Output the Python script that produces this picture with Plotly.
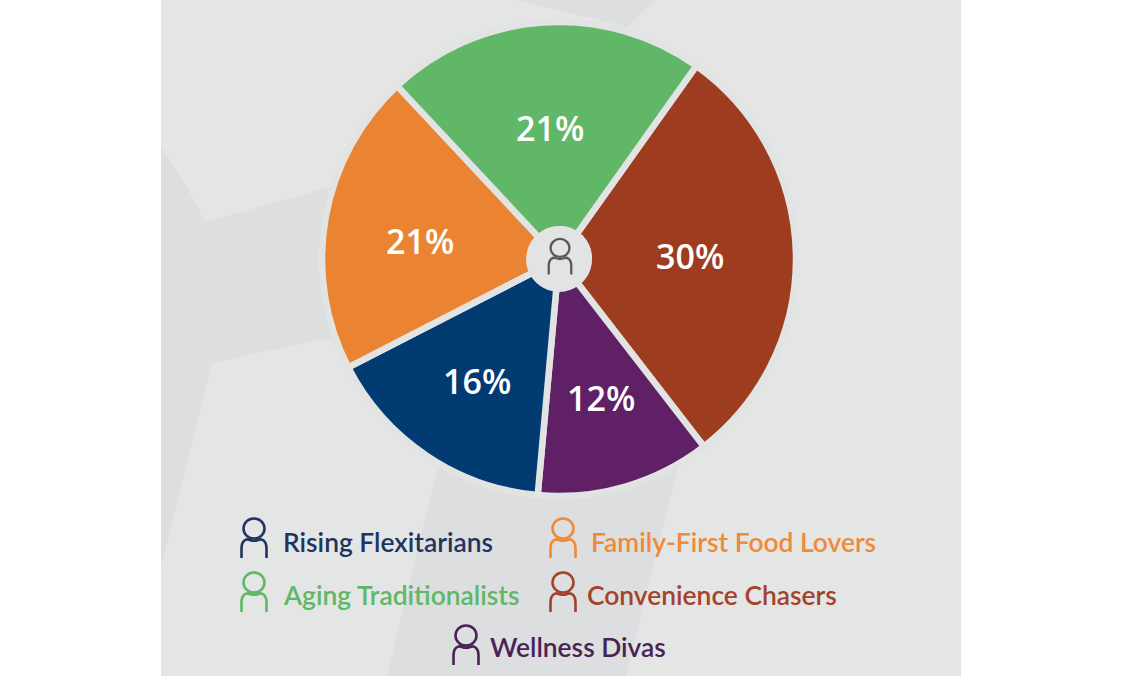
import math
import plotly.graph_objects as go

W, H = 1122, 676
segments = ["Convenience Chasers", "Wellness Divas", "Rising Flexitarians", "Family-First Food Lovers", "Aging Traditionalists"]
shares = [29.7, 11.9, 16.0, 20.6, 21.8]
share_labels = ["30%", "12%", "16%", "21%", "21%"]
colors = ["#9E3C20", "#5F2066", "#013B72", "#EA8433", "#60B767"]

PANEL = "#E4E5E5"
DARK = "#DDDEE0"
SEP = "#E2E3E3"
ROTATION = 35.4
CX, CY, R = 559, 259, 237
label_radius = [131, 145, 147, 140, 131]
label_nudge_deg = [0, -0.5, 0, -2.4, 0]

legend_items = [
    ("Rising Flexitarians", "#1F3560", 254, 538, 281, 542),
    ("Family-First Food Lovers", "#EE8A38", 563, 538, 589, 542),
    ("Aging Traditionalists", "#60B767", 254, 592, 281, 595),
    ("Convenience Chasers", "#A4432A", 563, 592, 585, 595),
    ("Wellness Divas", "#4A2255", 466, 645, 488, 647),
]

def person(cx, cy, color, s=1.0, width=2.6):
    """Outline person icon: head circle and open shoulders arch."""
    out = [dict(type="circle", xref="x", yref="y", x0=cx - 10.5 * s, x1=cx + 10.5 * s,
                y0=cy - 19.5 * s, y1=cy + 0.5 * s, line=dict(color=color, width=width), layer="above")]
    path = (f"M {cx-12.5*s} {cy+20*s} L {cx-12.5*s} {cy+10*s} C {cx-12.5*s} {cy+3*s} {cx-8*s} {cy+0*s} {cx-4*s} {cy+2*s} "
            f"C {cx-1.5*s} {cy+3*s} {cx+1.5*s} {cy+3*s} {cx+4*s} {cy+2*s} "
            f"C {cx+8*s} {cy+0*s} {cx+12.5*s} {cy+3*s} {cx+12.5*s} {cy+10*s} L {cx+12.5*s} {cy+20*s}")
    out.append(dict(type="path", xref="x", yref="y", path=path, line=dict(color=color, width=width), layer="above"))
    return out

shapes = [
    dict(type="rect", xref="x", yref="y", x0=161, x1=961, y0=0, y1=676, fillcolor=PANEL, line_width=0, layer="below"),
    dict(type="path", xref="x", yref="y", layer="below", fillcolor=DARK, line_width=0,
         path="M 161 147 Q 185 180 205 222 L 345 183 L 560 258 L 678 467 L 626 676 L 387 676 L 437 470 L 450 340 L 335 339 L 317 340 L 212 363 L 162 563 L 161 563 Z"),
    dict(type="path", xref="x", yref="y", layer="below", fillcolor=DARK, line_width=0,
         path="M 517 0 L 627 27 L 655 0 Z"),
    dict(type="circle", xref="x", yref="y", x0=528, x1=592, y0=226, y1=290, fillcolor=SEP, line_width=0, layer="above"),
]
shapes += person(560, 256.5, "#58595B", s=0.9, width=2.3)
for _, c, ix, iy, _, _ in legend_items:
    shapes += person(ix, iy, c)

fig = go.Figure()
fig.add_trace(go.Pie(
    labels=segments, values=shares, textinfo="none",
    sort=False, direction="clockwise", rotation=ROTATION, hole=0.125,
    marker=dict(colors=colors, line=dict(color=SEP, width=6.5)),
    domain=dict(x=[(CX - R) / W, (CX + R) / W], y=[1 - (CY + R) / H, 1 - (CY - R) / H]),
    showlegend=False,
))
annotations = [dict(text=n, x=tx, y=ty, xref="x", yref="y", xanchor="left", yanchor="middle", showarrow=False,
                    font=dict(family="Lato", size=26.4, color=c, weight=600))
               for n, c, _, _, tx, ty in legend_items]
# percent labels placed at each slice's mid-angle, derived from the shares
total = sum(shares)
cum = 0
for v, lab, r, nd in zip(shares, share_labels, label_radius, label_nudge_deg):
    a = math.radians(ROTATION + (cum + v / 2) / total * 360 + nd)
    cum += v
    annotations.append(dict(text=lab, x=CX + r * math.sin(a), y=CY - r * math.cos(a), xref="x", yref="y",
                            showarrow=False, font=dict(family="Open Sans", size=34, color="white", weight=600)))
fig.update_layout(
    width=W, height=H, margin=dict(l=0, r=0, t=0, b=0), paper_bgcolor="white", plot_bgcolor="rgba(0,0,0,0)",
    xaxis=dict(range=[0, W], visible=False, fixedrange=True),
    yaxis=dict(range=[H, 0], visible=False, fixedrange=True),
    shapes=shapes, annotations=annotations,
)
fig.add_trace(go.Scatter(x=[0], y=[0], mode="markers", marker_opacity=0, showlegend=False, hoverinfo="skip"))
fig.write_html("out.html", config=dict(displayModeBar=False),
               post_script="document.body.style.margin='0';document.documentElement.style.overflow='hidden';")
